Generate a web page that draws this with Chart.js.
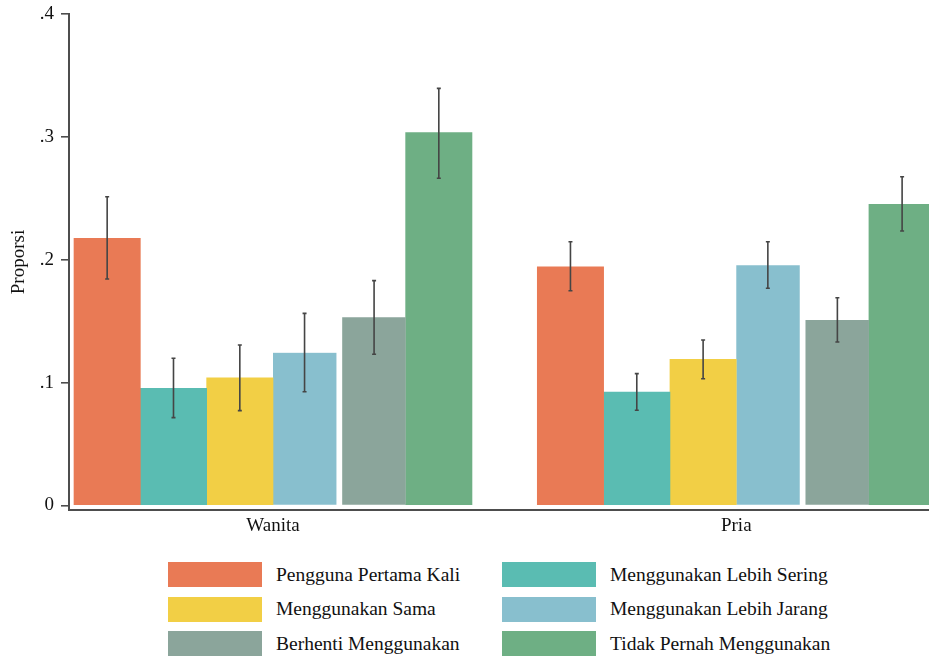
<!DOCTYPE html>
<html>
<head>
<meta charset="utf-8">
<script src="https://cdn.jsdelivr.net/npm/chart.js@4"></script>
<style>
  html, body { margin: 0; padding: 0; background: #fff; overflow: hidden; width: 929px; height: 656px; }
  #wrap { position: relative; width: 929px; height: 656px; overflow: hidden; }
  #chart { position: absolute; left: 0; top: 0; }
  .legend { position: absolute; font-family: "Liberation Serif", "Times New Roman", serif; font-size: 19.5px; color: #111; }
  .item { position: absolute; display: flex; align-items: center; height: 25px; white-space: nowrap; }
  .swatch { width: 94px; height: 25px; margin-right: 14px; box-sizing: border-box; }
</style>
</head>
<body>
<div id="wrap">
  <canvas id="chart" width="950" height="545"></canvas>
  <div class="legend" id="legend"></div>
</div>
<script>
// Groups on the x axis
const categories = ['Wanita', 'Pria'];
const yTicks = [0, 0.1, 0.2, 0.3, 0.4];

// Series names (legend order)
const seriesNames = [
  'Pengguna Pertama Kali',
  'Menggunakan Lebih Sering',
  'Menggunakan Sama',
  'Menggunakan Lebih Jarang',
  'Berhenti Menggunakan',
  'Tidak Pernah Menggunakan'
];

// Proportions per group: [Wanita, Pria]
const pertamaKali   = [0.2175, 0.1943];
const lebihSering   = [0.0954, 0.0924];
const sama          = [0.1040, 0.1190];
const lebihJarang   = [0.1244, 0.1955];
const berhenti      = [0.1532, 0.1510];
const tidakPernah   = [0.3034, 0.2451];

// Confidence interval bounds per group
const pertamaKaliLo = [0.1843, 0.1748], pertamaKaliHi = [0.2513, 0.2147];
const lebihSeringLo = [0.0715, 0.0775], lebihSeringHi = [0.1198, 0.1073];
const samaLo        = [0.0772, 0.1032], samaHi        = [0.1306, 0.1347];
const lebihJarangLo = [0.0926, 0.1768], lebihJarangHi = [0.1564, 0.2147];
const berhentiLo    = [0.1231, 0.1331], berhentiHi    = [0.1830, 0.1691];
const tidakPernahLo = [0.2663, 0.2234], tidakPernahHi = [0.3395, 0.2676];

const seriesValues = [pertamaKali, lebihSering, sama, lebihJarang, berhenti, tidakPernah];
const seriesLo = [pertamaKaliLo, lebihSeringLo, samaLo, lebihJarangLo, berhentiLo, tidakPernahLo];
const seriesHi = [pertamaKaliHi, lebihSeringHi, samaHi, lebihJarangHi, berhentiHi, tidakPernahHi];

const colors = ['#E97A55', '#5ABCB2', '#F2CF45', '#88BFCE', '#8BA59B', '#6EAF84'];
// white inner edges separating the fourth and fifth bars of each group
const edges = [0, 0, 0, { right: 3.2 }, { left: 3.2 }, 0];

const FONT = '"Liberation Serif", "Times New Roman", serif';
Chart.defaults.font.family = FONT;
Chart.defaults.font.size = 19;
Chart.defaults.color = '#111';

const datasets = seriesNames.map((name, k) => ({
  label: name,
  data: seriesValues[k].map((v, i) => ({ x: i, y: v })),
  ciLow: seriesLo[k],
  ciHigh: seriesHi[k],
  backgroundColor: colors[k],
  borderColor: '#ffffff',
  borderWidth: edges[k],
  borderSkipped: false,
  barThickness: 66.33
}));

// Vertical confidence-interval whiskers with small caps
const errorBars = {
  id: 'errorBars',
  afterDatasetsDraw(chart) {
    const ctx = chart.ctx;
    const ys = chart.scales.y;
    ctx.save();
    ctx.strokeStyle = '#454545';
    ctx.lineWidth = 1.6;
    chart.data.datasets.forEach((ds, di) => {
      const meta = chart.getDatasetMeta(di);
      const bw = typeof ds.borderWidth === 'object' ? ds.borderWidth : {};
      const shift = ((bw.left || 0) - (bw.right || 0)) / 2;
      meta.data.forEach((bar, i) => {
        const x = bar.x + shift;
        const yHi = ys.getPixelForValue(ds.ciHigh[i]);
        const yLo = ys.getPixelForValue(ds.ciLow[i]);
        ctx.beginPath();
        ctx.moveTo(x, yHi); ctx.lineTo(x, yLo);
        ctx.moveTo(x - 2, yHi); ctx.lineTo(x + 2, yHi);
        ctx.moveTo(x - 2, yLo); ctx.lineTo(x + 2, yLo);
        ctx.stroke();
      });
    });
    ctx.restore();
  }
};

new Chart(document.getElementById('chart'), {
  type: 'bar',
  data: { datasets },
  plugins: [errorBars],
  options: {
    responsive: false,
    animation: false,
    devicePixelRatio: 1,
    layout: { padding: { top: 14, left: 0, right: 0, bottom: 0 } },
    plugins: { legend: { display: false }, tooltip: { enabled: false } },
    scales: {
      x: {
        type: 'linear',
        offset: false,
        min: -0.4403,
        max: 1.4613,
        afterBuildTicks: s => { s.ticks = categories.map((_, i) => ({ value: i })); },
        afterFit: s => { s.height = 35; s.paddingLeft = 0; s.paddingRight = 0; },
        ticks: {
          padding: 5,
          color: '#111',
          font: { size: 19 },
          callback: v => categories[v]
        },
        grid: { display: false, drawTicks: false },
        border: { display: true, color: '#4d4d4d', width: 2 }
      },
      y: {
        min: -0.00366,
        max: 0.4,
        afterBuildTicks: s => { s.ticks = yTicks.map(v => ({ value: v })); },
        afterFit: s => { s.width = 69; s.paddingTop = 0; s.paddingBottom = 0; },
        ticks: {
          padding: 7,
          color: '#111',
          font: { size: 19 },
          callback: v => (v === 0 ? '0' : v.toFixed(1).replace(/^0/, ''))
        },
        grid: {
          display: true,
          drawOnChartArea: false,
          drawTicks: true,
          tickLength: 8,
          color: '#4d4d4d',
          lineWidth: 1.6
        },
        border: { display: true, color: '#4d4d4d', width: 2 },
        title: {
          display: true,
          text: 'Proporsi',
          color: '#111',
          font: { size: 19 },
          padding: { top: 8, bottom: 0 }
        }
      }
    }
  }
});

// Two-column legend below the plot
const legend = document.getElementById('legend');
const colLeft = [168, 502];
const rowTop = [562, 596.5, 631];
seriesNames.forEach((name, k) => {
  const item = document.createElement('div');
  item.className = 'item';
  item.style.left = colLeft[k % 2] + 'px';
  item.style.top = rowTop[Math.floor(k / 2)] + 'px';
  const sw = document.createElement('span');
  sw.className = 'swatch';
  sw.style.background = colors[k];
  const tx = document.createElement('span');
  tx.textContent = name;
  item.appendChild(sw);
  item.appendChild(tx);
  legend.appendChild(item);
});
</script>
</body>
</html>
